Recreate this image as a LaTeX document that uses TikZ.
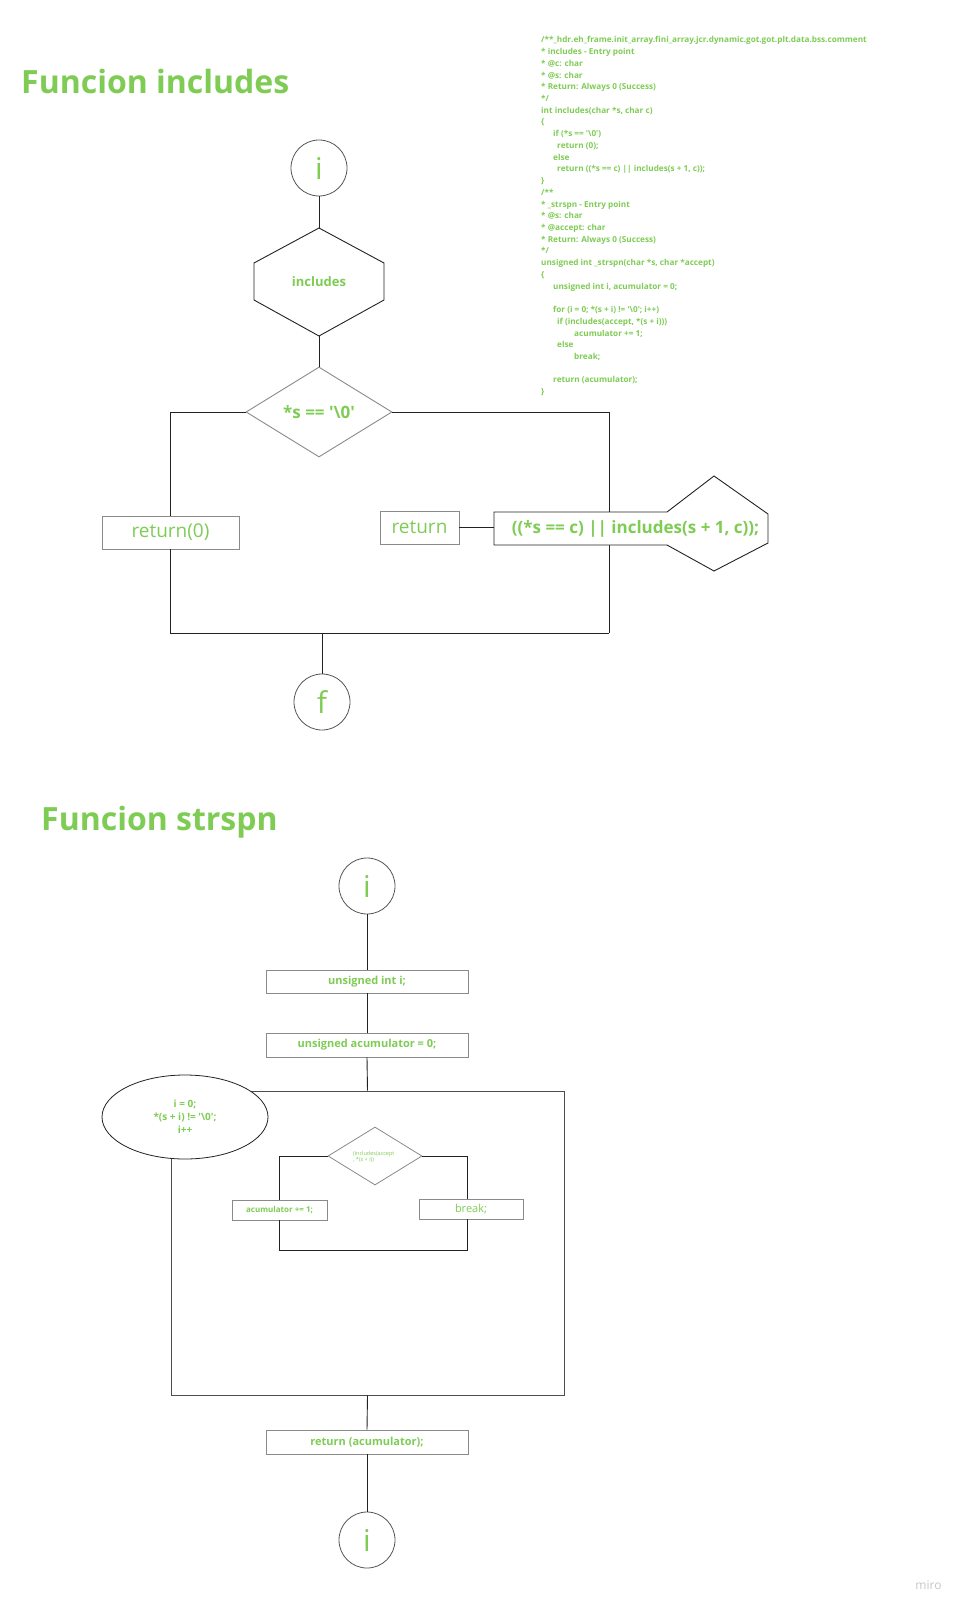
\documentclass[tikz,border=0pt]{standalone}
\usepackage{fontspec}
\setmainfont{Open Sans}
\usetikzlibrary{shapes.geometric}
\definecolor{grn}{HTML}{7FCC55}
\definecolor{boxgray}{HTML}{8A8A8A}
\definecolor{lineblk}{HTML}{222222}
\definecolor{circgray}{HTML}{555555}
\newcommand\myfs[1]{\fontsize{#1}{#1}\selectfont}
\newcommand\sq{\textquotesingle}
\tikzset{
  conn/.style={draw=lineblk, line width=0.9pt},
  shapeline/.style={draw=lineblk, line width=0.9pt, line join=miter},
  title/.style={anchor=base west, inner sep=0, text=grn, font=\myfs{32}\bfseries},
  code/.style={anchor=base west, inner sep=0, text=grn, font=\myfs{8.2}\bfseries},
  gbox/.style={rectangle, draw=boxgray, line width=0.9pt, inner sep=0, text=grn, fill=white},
  term/.style={circle, draw=circgray, line width=0.8pt, minimum size=56, inner sep=0, text=grn, font=\myfs{30}},
  gtext/.style={inner sep=0, text=grn},
}
\begin{document}
\begin{tikzpicture}[x=1pt,y=-1pt]
\useasboundingbox[fill=white] (0,0) rectangle (968,1613);

% ---------- titles ----------
\node[title] (t1) at (21,94) {Funcion includes};
\node[title] (t2) at (41,830) {Funcion strspn};

% ---------- code ----------
\node[code] (c0) at (541,43.0) {/**\_hdr.eh\_frame.init\_array.fini\_array.jcr.dynamic.got.got.plt.data.bss.comment};
\node[code] (c1) at (541,54.7) {* includes - Entry point};
\node[code] (c2) at (541,66.4) {* @c: char};
\node[code] (c3) at (541,78.2) {* @s: char};
\node[code] (c4) at (541,89.9) {* Return: Always 0 (Success)};
\node[code] (c5) at (541,101.6) {*/};
\node[code] (c6) at (541,113.3) {int includes(char *s, char c)};
\node[code] (c7) at (541,125.0) {\{};
\node[code] (c8) at (553,136.8) {if (*s == \sq\textbackslash 0\sq)};
\node[code] (c9) at (557,148.5) {return (0);};
\node[code] (c10) at (553,160.2) {else};
\node[code] (c11) at (557,171.9) {return ((*s == c) || includes(s + 1, c));};
\node[code] (c12) at (541,183.6) {\}};
\node[code] (c13) at (541,195.4) {/**};
\node[code] (c14) at (541,207.1) {* \_strspn - Entry point};
\node[code] (c15) at (541,218.8) {* @s: char};
\node[code] (c16) at (541,230.5) {* @accept: char};
\node[code] (c17) at (541,242.2) {* Return: Always 0 (Success)};
\node[code] (c18) at (541,254.0) {*/};
\node[code] (c19) at (541,265.7) {unsigned int \_strspn(char *s, char *accept)};
\node[code] (c20) at (541,277.4) {\{};
\node[code] (c21) at (553,289.1) {unsigned int i, acumulator = 0;};
\node[code] (c23) at (553,312.6) {for (i = 0; *(s + i) != \sq\textbackslash 0\sq; i++)};
\node[code] (c24) at (557,324.3) {if (includes(accept, *(s + i)))};
\node[code] (c25) at (574,336.0) {acumulator += 1;};
\node[code] (c26) at (557,347.7) {else};
\node[code] (c27) at (574,359.4) {break;};
\node[code] (c29) at (553,382.9) {return (acumulator);};
\node[code] (c30) at (541,394.6) {\}};

% ---------- flowchart: includes ----------
\node[term] (i1) at (319,168) {i};

\coordinate (hxT) at (319,228);
\coordinate (hxB) at (319,336);
\draw[shapeline] (hxT) -- (384,263) -- (384,300) -- (hxB) -- (254,300) -- (254,263) -- cycle;
\node[gtext, font=\myfs{13}\bfseries] (hx) at (319,282) {includes};

\node[diamond, draw=boxgray, line width=0.9pt, minimum width=146, minimum height=90,
      inner sep=0, aspect=1.6, text=grn, font=\myfs{17}\bfseries] (d1) at (319,412)
      {*s == \sq\textbackslash 0\sq};

\node[gbox, minimum width=137, minimum height=33, font=\myfs{19}] (ret0) at (170.5,532.5) {return(0)};
\node[gbox, minimum width=79, minimum height=33, font=\myfs{19}] (ret) at (419.5,527.5) {return};

\coordinate (br) at (609,633);
\coordinate (fm) at (322,633);
\coordinate (shL) at (494,528);

\draw[conn] (i1.south) -- (hxT);
\draw[conn] (hxB) -- (d1.north);
\draw[conn] (d1.west) -| (ret0.north);
\draw[conn] (d1.east) -| (br);
\draw[conn] (ret0.south) |- (br);
\draw[conn] (ret.east) -- (ret.east -| shL);

\draw[shapeline, fill=white] (494,512) -- (667,512) -- (714,476) -- (768,514) -- (768,543)
      -- (714,571) -- (667,545) -- (494,545) -- cycle;
\node[gtext, font=\myfs{17}\bfseries] (expr) at (635.5,529) {((*s == c) || includes(s + 1, c));};

\node[term] (f1) at (322,702) {f};
\draw[conn] (fm) -- (f1.north);

% ---------- flowchart: strspn ----------
\node[term] (i2) at (367,886) {i};
\node[gbox, minimum width=202, minimum height=23, font=\myfs{11}\bfseries] (b1) at (367,981.5) {unsigned int i;};
\node[gbox, minimum width=202, minimum height=24, font=\myfs{11}\bfseries] (b2) at (367,1045) {unsigned acumulator = 0;};
\node[rectangle, draw=lineblk!80, line width=0.9pt, minimum width=393, minimum height=304, inner sep=0] (loop) at (367.5,1243) {};
\node[ellipse, draw=lineblk, line width=0.8pt, fill=white, minimum width=166, minimum height=84, inner sep=0,
      text=grn, font=\myfs{10}\bfseries, align=center] (e1) at (185,1117)
      {i = 0;\\[3pt]*(s + i) != \sq\textbackslash 0\sq;\\[3pt]i++};

\node[diamond, draw=boxgray, line width=0.8pt, minimum width=94, minimum height=58, inner sep=0, aspect=1.6] (d2) at (375,1156) {};
\node[gtext, font=\myfs{5.5}, align=left, anchor=west] (d2t) at (353,1157) {(includes(accept\\[1pt], *(s + i))};

\node[gbox, minimum width=95, minimum height=20, font=\myfs{8}\bfseries] (acc) at (279.5,1210) {acumulator += 1;};
\node[gbox, minimum width=104, minimum height=20, font=\myfs{11}] (brk) at (471,1209) {break;};

\node[gbox, minimum width=202, minimum height=24, font=\myfs{11}\bfseries] (ret2) at (367,1442) {return (acumulator);};
\node[term] (i3) at (367,1540) {i};

\coordinate (jr) at (467,1250);

\draw[conn] (i2.south) -- (b1.north);
\draw[conn] (b1.south) -- (b2.north);
\draw[conn] (b2.south) -- (loop.north);
\draw[conn] (d2.west) -| (acc.north);
\draw[conn] (d2.east) -| ([xshift=-4pt]brk.north);
\draw[conn] (acc.south) |- (jr) -- ([xshift=-4pt]brk.south);
\draw[conn] (loop.south) -- (ret2.north);
\draw[conn] (ret2.south) -- (i3.north);

% ---------- watermark ----------
\node[inner sep=0, text=gray!45, font=\myfs{12}] (miro) at (928.5,1585) {miro};
\end{tikzpicture}
\end{document}
